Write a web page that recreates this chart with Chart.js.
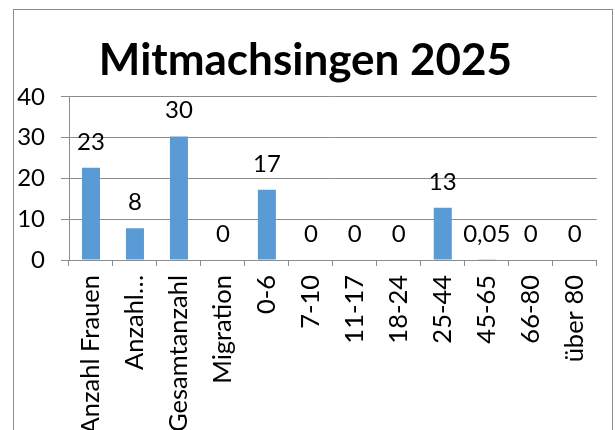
<!DOCTYPE html>
<html>
<head>
<meta charset="utf-8">
<script src="https://cdn.jsdelivr.net/npm/chart.js@4"></script>
<style>
  html, body { margin: 0; padding: 0; background: #fff; }
  #wrap { width: 615px; height: 430px; }
</style>
</head>
<body>
<div id="wrap"><canvas id="chart" width="615" height="430"></canvas></div>
<script>
const titleText = 'Mitmachsingen 2025'
const categories = ['Anzahl Frauen', 'Anzahl…', 'Gesamtanzahl', 'Migration', '0-6', '7-10', '11-17', '18-24', '25-44', '45-65', '66-80', 'über 80']
const values = [22.6, 7.8, 30.3, 0, 17.2, 0, 0, 0, 12.8, 0.05, 0, 0]
const yTicks = [0, 10, 20, 30, 40]

const fontFamily = 'Lato, "Open Sans", sans-serif'
const barColor = '#5B9BD5'
const gridColor = '#8C8C8C'

// Excel-style label: whole numbers, small values with comma decimals
const formatValue = (v) => v >= 1 || v === 0 ? String(Math.round(v)) : String(v).replace('.', ',')

const frameBorder = {
    id: 'frameBorder',
    beforeDraw(chart) {
        const ctx = chart.ctx
        ctx.save()
        ctx.strokeStyle = '#8C8C8C'
        ctx.lineWidth = 1
        ctx.strokeRect(13.5, 9.5, 599, 500)
        ctx.restore()
    }
}

const valueLabels = {
    id: 'valueLabels',
    afterDatasetsDraw(chart) {
        const ctx = chart.ctx
        const meta = chart.getDatasetMeta(0)
        ctx.save()
        ctx.font = `24px ${fontFamily}`
        ctx.fillStyle = '#000'
        ctx.textAlign = 'center'
        ctx.textBaseline = 'middle'
        meta.data.forEach((bar, i) => {
            ctx.fillText(formatValue(values[i]), bar.x, bar.y - 26)
        })
        ctx.restore()
    }
}

new Chart(document.getElementById('chart'), {
    type: 'bar',
    data: {
        labels: categories,
        datasets: [{
            data: values,
            backgroundColor: barColor,
            borderWidth: 0,
            barPercentage: 0.41,
            categoryPercentage: 1
        }]
    },
    options: {
        responsive: false,
        animation: false,
        layout: {padding: {left: 13, right: 17, top: 0, bottom: 0}},
        plugins: {
            legend: {display: false},
            tooltip: {enabled: false},
            title: {
                display: true,
                text: titleText,
                color: '#000',
                font: {family: fontFamily, size: 44, weight: 'bold', lineHeight: 1.2},
                padding: {top: 34, bottom: 10}
            }
        },
        scales: {
            x: {
                grid: {
                    offset: true,
                    drawOnChartArea: false,
                    drawTicks: true,
                    tickLength: 6,
                    color: gridColor
                },
                border: {color: gridColor},
                ticks: {
                    autoSkip: false,
                    minRotation: 90,
                    maxRotation: 90,
                    padding: 9,
                    color: '#000',
                    font: {family: fontFamily, size: 25.5}
                },
                afterFit: (scale) => { scale.height = 170 }
            },
            y: {
                min: 0,
                max: 40,
                afterBuildTicks: (scale) => { scale.ticks = yTicks.map(v => ({value: v})) },
                grid: {
                    color: gridColor,
                    drawTicks: true,
                    tickLength: 8
                },
                border: {color: gridColor},
                ticks: {
                    padding: 16,
                    color: '#000',
                    font: {family: fontFamily, size: 24}
                },
                afterFit: (scale) => { scale.width = 56 }
            }
        }
    },
    plugins: [frameBorder, valueLabels]
})
</script>
</body>
</html>
